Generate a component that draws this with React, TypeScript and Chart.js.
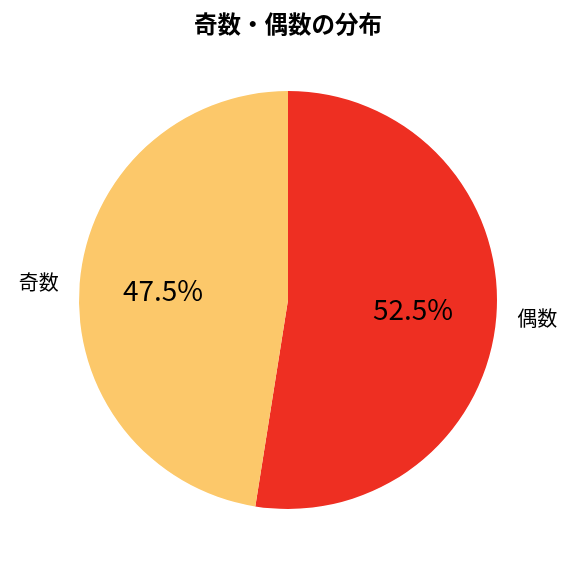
import { useRef, useEffect } from "react";
import { Chart, registerables, Plugin } from "chart.js";

Chart.register(...registerables);

const categories = ["偶数", "奇数"];
const shares = [52.5, 47.5];
const sliceColors = ["#EE2F22", "#FCC86A"];
const chartTitle = "奇数・偶数の分布";

const FONT = '"Noto Sans CJK JP", "Noto Sans", sans-serif';

const labelPlugin: Plugin<"pie"> = {
  id: "pieLabels",
  afterDraw(chart) {
    const ctx = chart.ctx;
    const meta = chart.getDatasetMeta(0);
    ctx.save();

    // title
    ctx.fillStyle = "#000";
    ctx.font = `bold 23.5px ${FONT}`;
    ctx.textAlign = "center";
    ctx.textBaseline = "middle";
    ctx.fillText(chartTitle, 288, 24);

    meta.data.forEach((el: any, i: number) => {
      const mid = (el.startAngle + el.endAngle) / 2;
      const r = el.outerRadius;
      const cos = Math.cos(mid);
      const sin = Math.sin(mid);

      // percentage inside
      ctx.font = `28px ${FONT}`;
      ctx.textAlign = "center";
      ctx.fillText(
        shares[i].toFixed(1) + "%",
        el.x + cos * r * 0.6,
        el.y + sin * r * 0.6
      );

      // category outside
      ctx.font = `20px ${FONT}`;
      ctx.textAlign = cos >= 0 ? "left" : "right";
      ctx.fillText(categories[i], el.x + cos * r * 1.1, el.y + sin * r * 1.1);
    });
    ctx.restore();
  },
};

const App = () => {
  const chartRef = useRef<HTMLCanvasElement | null>(null);
  const chartInstance = useRef<Chart<"pie", number[], string> | null>(null);

  useEffect(() => {
    document.body.style.margin = "0";
    if (chartInstance.current) {
      chartInstance.current.destroy();
    }
    const myChartRef = chartRef.current?.getContext("2d");
    if (myChartRef) {
      chartInstance.current = new Chart(myChartRef, {
        type: "pie",
        data: {
          labels: categories,
          datasets: [
            {
              data: shares,
              backgroundColor: sliceColors,
              borderWidth: 0,
            },
          ],
        },
        options: {
          responsive: false,
          animation: false,
          layout: {
            padding: { top: 91, bottom: 67, left: 79, right: 79 },
          },
          plugins: {
            legend: { display: false },
            tooltip: { enabled: false },
            title: { display: false },
          },
        },
        plugins: [labelPlugin],
      });
    }
    return () => {
      if (chartInstance.current) {
        chartInstance.current.destroy();
        chartInstance.current = null;
      }
    };
  }, []);

  return (
    <div style={{ width: 576, height: 576, background: "#fff" }}>
      <canvas ref={chartRef} width={576} height={576}></canvas>
    </div>
  );
};

export default App;
